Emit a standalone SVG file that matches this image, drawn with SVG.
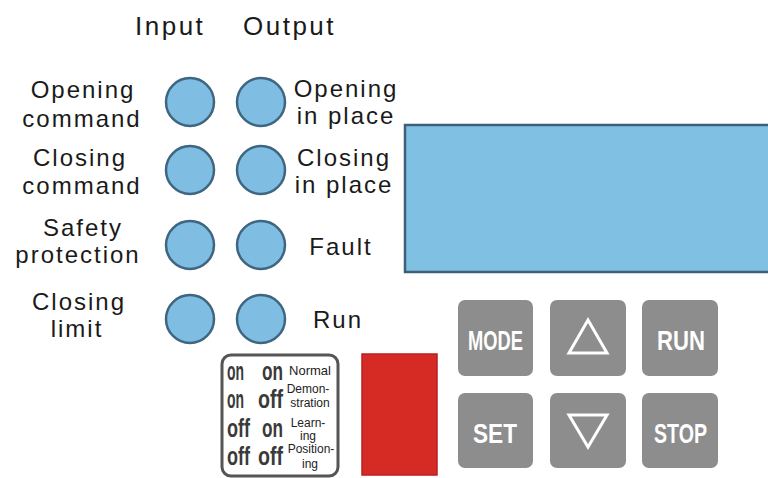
<svg xmlns="http://www.w3.org/2000/svg" width="768" height="478" viewBox="0 0 768 478">
<style>
.lbl{font-family:"Liberation Sans",Arial,sans-serif;font-size:24px;fill:#1a1a1a;letter-spacing:2px;text-anchor:middle}
.hdr{font-family:"Liberation Sans",Arial,sans-serif;font-size:26px;fill:#1a1a1a;letter-spacing:2.5px}
.led{fill:#7fbde3;stroke:#3e6680;stroke-width:2.5}
.btn{fill:#8d8d8d}
.bt{font-family:"Liberation Sans",Arial,sans-serif;font-weight:bold;font-size:28px;fill:#ffffff}
.tri{fill:none;stroke:#ffffff;stroke-width:3;stroke-linejoin:miter}
.sw{font-family:"Liberation Sans",Arial,sans-serif;font-weight:bold;font-size:25px;fill:#3a3a3a}
.sl{font-family:"Liberation Sans",Arial,sans-serif;font-size:12px;fill:#222;text-anchor:middle}
</style>
<rect width="768" height="478" fill="#ffffff"/>
<g id="headers">
<text class="hdr" x="135" y="35">Input</text>
<text class="hdr" x="243" y="35">Output</text>
</g>
<g id="row1">
<text class="lbl" x="83" y="98">Opening</text>
<text class="lbl" x="82" y="127">command</text>
<circle class="led" cx="190" cy="102" r="24"/>
<circle class="led" cx="261" cy="102" r="24"/>
<text class="lbl" x="346" y="97">Opening</text>
<text class="lbl" x="346" y="124">in place</text>
</g>
<g id="row2">
<text class="lbl" x="80" y="166">Closing</text>
<text class="lbl" x="82" y="194">command</text>
<circle class="led" cx="190" cy="170" r="24"/>
<circle class="led" cx="261" cy="170" r="24"/>
<text class="lbl" x="344" y="166">Closing</text>
<text class="lbl" x="344" y="193">in place</text>
</g>
<g id="row3">
<text class="lbl" x="83" y="236">Safety</text>
<text class="lbl" x="78" y="263">protection</text>
<circle class="led" cx="190" cy="245" r="24"/>
<circle class="led" cx="261" cy="245" r="24"/>
<text class="lbl" x="341" y="255">Fault</text>
</g>
<g id="row4">
<text class="lbl" x="79" y="310">Closing</text>
<text class="lbl" x="77" y="337">limit</text>
<circle class="led" cx="190" cy="319" r="24"/>
<circle class="led" cx="261" cy="319" r="24"/>
<text class="lbl" x="338" y="328">Run</text>
</g>
<g id="display">
<rect x="405" y="125" width="370" height="147" fill="#80c0e3" stroke="#3d5f78" stroke-width="2.5"/>
</g>
<g id="buttons">
<g id="btn-mode"><rect class="btn" x="458" y="300" width="75" height="76" rx="7"/><text class="bt" x="468" y="350" textLength="55" lengthAdjust="spacingAndGlyphs">MODE</text></g>
<g id="btn-up"><rect class="btn" x="550" y="300" width="76" height="76" rx="7"/><polygon class="tri" points="588,320 569,353 607,353"/></g>
<g id="btn-run"><rect class="btn" x="642" y="300" width="76" height="76" rx="7"/><text class="bt" x="657" y="350" textLength="48" lengthAdjust="spacingAndGlyphs">RUN</text></g>
<g id="btn-set"><rect class="btn" x="458" y="393" width="75" height="75" rx="7"/><text class="bt" x="473" y="443" textLength="44" lengthAdjust="spacingAndGlyphs">SET</text></g>
<g id="btn-down"><rect class="btn" x="550" y="393" width="76" height="75" rx="7"/><polygon class="tri" points="569,415 607,415 588,447"/></g>
<g id="btn-stop"><rect class="btn" x="642" y="393" width="76" height="75" rx="7"/><text class="bt" x="654" y="443" textLength="53" lengthAdjust="spacingAndGlyphs">STOP</text></g>
</g>
<g id="red-led">
<rect x="362" y="354" width="75" height="121" fill="#d62b25" stroke="#b82020" stroke-width="1.5"/>
</g>
<g id="dip-switch">
<rect x="222" y="355" width="116" height="121" rx="9" fill="#ffffff" stroke="#555555" stroke-width="3"/>
<text class="sw" x="227" y="380" textLength="17" lengthAdjust="spacingAndGlyphs">on</text>
<text class="sw" x="262" y="380" textLength="21" lengthAdjust="spacingAndGlyphs">on</text>
<text class="sw" x="227" y="408" textLength="17" lengthAdjust="spacingAndGlyphs">on</text>
<text class="sw" x="258" y="408" textLength="25" lengthAdjust="spacingAndGlyphs">off</text>
<text class="sw" x="227" y="437" textLength="23" lengthAdjust="spacingAndGlyphs">off</text>
<text class="sw" x="262" y="437" textLength="21" lengthAdjust="spacingAndGlyphs">on</text>
<text class="sw" x="227" y="465" textLength="23" lengthAdjust="spacingAndGlyphs">off</text>
<text class="sw" x="258" y="465" textLength="25" lengthAdjust="spacingAndGlyphs">off</text>
<text class="sl" x="310" y="375" style="font-size:13px">Normal</text>
<text class="sl" x="308" y="393">Demon-</text>
<text class="sl" x="310" y="407">stration</text>
<text class="sl" x="308" y="427">Learn-</text>
<text class="sl" x="308" y="440">ing</text>
<text class="sl" x="311" y="453">Position-</text>
<text class="sl" x="310" y="468">ing</text>
</g>
</svg>
